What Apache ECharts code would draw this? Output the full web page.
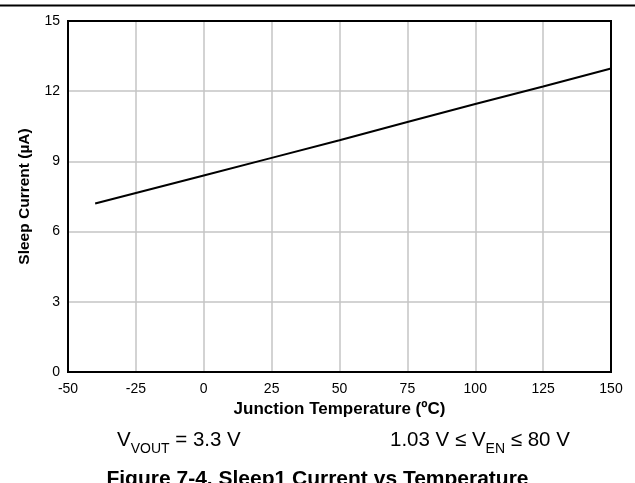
<!DOCTYPE html>
<html><head><meta charset="utf-8">
<script src="https://cdn.jsdelivr.net/npm/echarts@6/dist/echarts.min.js"></script>
<style>html,body{margin:0;padding:0;background:#fff}#c{width:635px;height:483px}</style>
</head><body><div id="c"></div>
<script>
const temps = [-40, -25, 0, 25, 50, 75, 100, 125, 150];
const sleepCurrent = [7.2, 7.65, 8.4, 9.15, 9.9, 10.68, 11.45, 12.2, 12.97];
const font = '"Liberation Sans", Arial, sans-serif';
const chart = echarts.init(document.getElementById('c'));
const cap = {fontFamily: font, fontSize: 20.5, fill: '#000', lineHeight: 26, verticalAlign: 'top'};
const sub = {fontFamily: font, fontSize: 14, fill: '#000', lineHeight: 26, verticalAlign: 'bottom', padding: [11, 0, 0, 0]};
chart.setOption({
  animation: false,
  grid: {left: 68, right: 24, top: 21, bottom: 111, show: true, borderColor: '#000', borderWidth: 2, z: 3},
  xAxis: {type: 'value', min: -50, max: 150, interval: 25,
    name: 'Junction Temperature (ºC)', nameLocation: 'middle', nameGap: 22,
    nameTextStyle: {fontFamily: font, fontWeight: 'bold', fontSize: 17, color: '#000'},
    axisLine: {show: false}, axisTick: {show: false},
    axisLabel: {fontFamily: font, fontSize: 14, color: '#000', margin: 10},
    splitLine: {lineStyle: {color: '#c4c4c4', width: 1.5}}},
  yAxis: {type: 'value', min: 0, max: 15, interval: 3,
    name: 'Sleep Current (µA)', nameLocation: 'middle', nameGap: 35,
    nameTextStyle: {fontFamily: font, fontWeight: 'bold', fontSize: 15.5, color: '#000'},
    axisLine: {show: false}, axisTick: {show: false},
    axisLabel: {fontFamily: font, fontSize: 14, color: '#000', margin: 8},
    splitLine: {lineStyle: {color: '#c4c4c4', width: 1.5}}},
  series: [{type: 'line', data: temps.map((t, i) => [t, sleepCurrent[i]]), showSymbol: false,
    lineStyle: {color: '#000', width: 2}, z: 4}],
  graphic: [
    {type: 'line', shape: {x1: 0, y1: 5.5, x2: 635, y2: 5.5}, style: {stroke: '#000', lineWidth: 2}},
    {type: 'text', left: 117, top: 430, style: {
      text: '{a|V}{s|VOUT}{a| = 3.3 V}', rich: {a: cap, s: sub}}},
    {type: 'text', left: 390, top: 430, style: {
      text: '{a|1.03 V ≤ V}{s|EN}{a| ≤ 80 V}', rich: {a: cap, s: sub}}},
    {type: 'text', left: 'center', top: 469, style: {
      text: 'Figure 7-4. Sleep1 Current vs Temperature',
      fontFamily: font, fontSize: 21, fontWeight: 'bold', fill: '#000'}}
  ]
});
</script></body></html>
